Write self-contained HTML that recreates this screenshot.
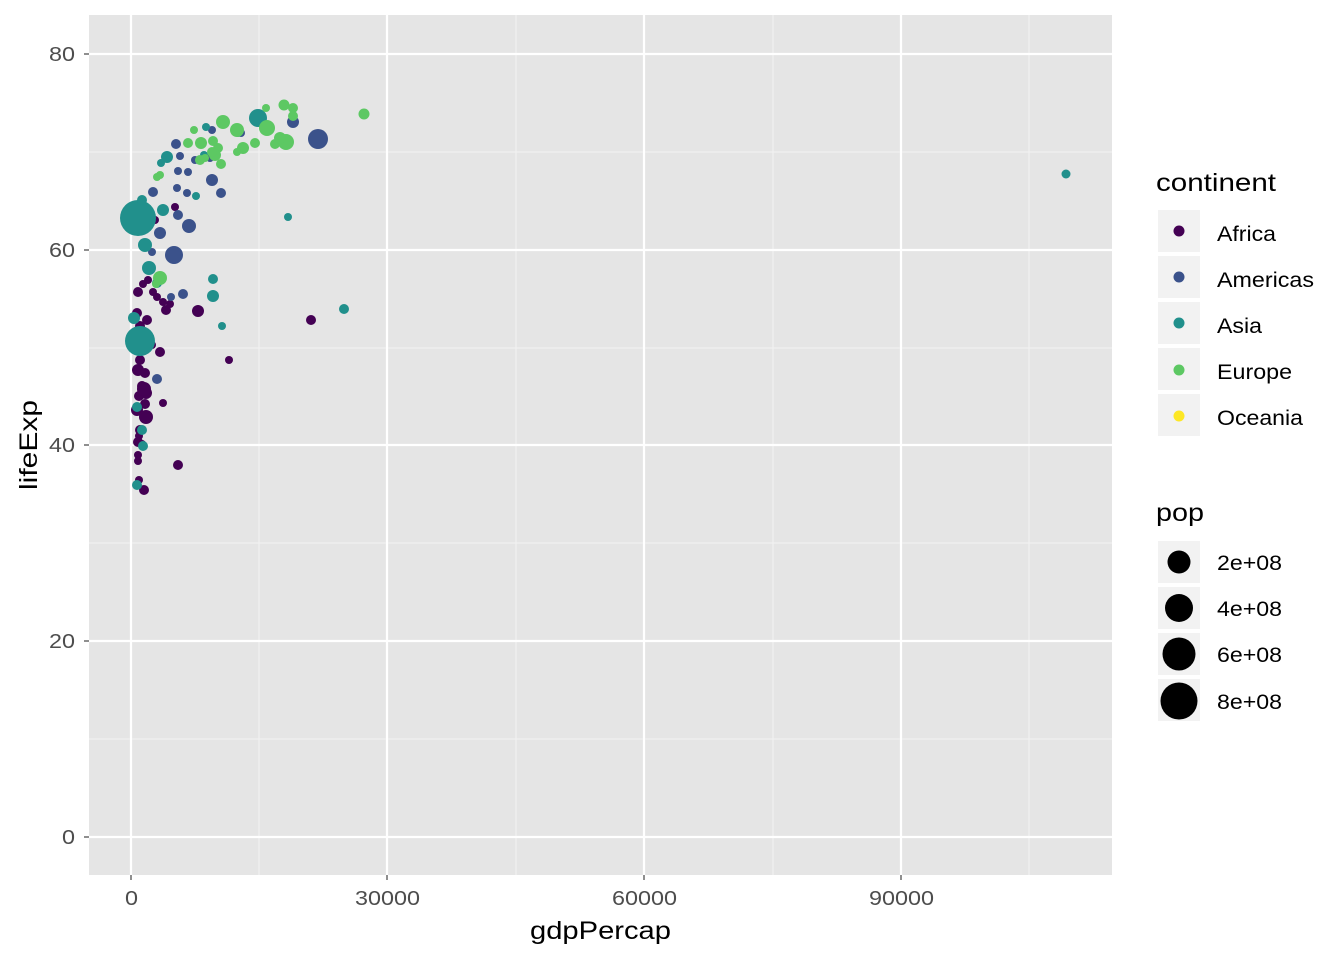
<!DOCTYPE html>
<html><head><style>body{margin:0;background:#fff}svg{display:block}text{font-family:"Liberation Sans",sans-serif}</style></head>
<body>
<svg width="1344" height="960" viewBox="0 0 1344 960">
<rect x="89" y="15" width="1023" height="860" fill="#e5e5e5"/>
<g stroke="#f2f2f2" stroke-width="1.1">
<line x1="259" y1="15" x2="259" y2="875"/><line x1="516" y1="15" x2="516" y2="875"/><line x1="773" y1="15" x2="773" y2="875"/><line x1="1029" y1="15" x2="1029" y2="875"/>
<line x1="89" y1="152" x2="1112" y2="152"/><line x1="89" y1="348" x2="1112" y2="348"/><line x1="89" y1="543" x2="1112" y2="543"/><line x1="89" y1="739" x2="1112" y2="739"/>
</g>
<g stroke="#fff" stroke-width="2.2">
<line x1="131" y1="15" x2="131" y2="875"/><line x1="387" y1="15" x2="387" y2="875"/><line x1="644" y1="15" x2="644" y2="875"/><line x1="901" y1="15" x2="901" y2="875"/>
<line x1="89" y1="54" x2="1112" y2="54"/><line x1="89" y1="250" x2="1112" y2="250"/><line x1="89" y1="445" x2="1112" y2="445"/><line x1="89" y1="641" x2="1112" y2="641"/><line x1="89" y1="837" x2="1112" y2="837"/>
</g>
<g stroke="#333" stroke-width="1.1">
<line x1="84" y1="54" x2="89" y2="54"/><line x1="84" y1="250" x2="89" y2="250"/><line x1="84" y1="445" x2="89" y2="445"/><line x1="84" y1="641" x2="89" y2="641"/><line x1="84" y1="837" x2="89" y2="837"/>
<line x1="131" y1="875" x2="131" y2="880"/><line x1="387" y1="875" x2="387" y2="880"/><line x1="644" y1="875" x2="644" y2="880"/><line x1="901" y1="875" x2="901" y2="880"/>
</g>
<g font-size="20" fill="#4d4d4d">
<text x="49" y="61" textLength="26" lengthAdjust="spacingAndGlyphs">80</text>
<text x="49" y="257" textLength="26" lengthAdjust="spacingAndGlyphs">60</text>
<text x="49" y="452" textLength="26" lengthAdjust="spacingAndGlyphs">40</text>
<text x="49" y="648" textLength="26" lengthAdjust="spacingAndGlyphs">20</text>
<text x="62" y="844" textLength="13" lengthAdjust="spacingAndGlyphs">0</text>
<text x="125" y="905" textLength="13" lengthAdjust="spacingAndGlyphs">0</text>
<text x="355" y="905" textLength="65" lengthAdjust="spacingAndGlyphs">30000</text>
<text x="612" y="905" textLength="65" lengthAdjust="spacingAndGlyphs">60000</text>
<text x="869" y="905" textLength="65" lengthAdjust="spacingAndGlyphs">90000</text>
</g>
<text x="530" y="939" font-size="25" textLength="141" lengthAdjust="spacingAndGlyphs">gdpPercap</text>
<text transform="translate(37,490) rotate(-90)" font-size="25" textLength="90" lengthAdjust="spacingAndGlyphs">lifeExp</text>
<g fill="#440154">
<circle cx="138" cy="292" r="5"/><circle cx="143" cy="284" r="4"/><circle cx="153" cy="292" r="4"/><circle cx="157" cy="297" r="4"/><circle cx="163" cy="302" r="4"/><circle cx="166" cy="310" r="5"/><circle cx="170" cy="304" r="4"/><circle cx="148" cy="280" r="4"/><circle cx="155" cy="220" r="4"/><circle cx="175" cy="207" r="4"/><circle cx="137" cy="313" r="5"/><circle cx="140" cy="326" r="5"/><circle cx="145" cy="335" r="5"/><circle cx="147" cy="320" r="5"/><circle cx="152" cy="345" r="4"/><circle cx="160" cy="352" r="5"/><circle cx="143" cy="346" r="6"/><circle cx="140" cy="360" r="5"/><circle cx="138" cy="370" r="6"/><circle cx="145" cy="373" r="5"/><circle cx="142" cy="386" r="5"/><circle cx="146" cy="393" r="6"/><circle cx="139" cy="396" r="5"/><circle cx="145" cy="404" r="5"/><circle cx="137" cy="410" r="6"/><circle cx="140" cy="430" r="5"/><circle cx="139" cy="436" r="4"/><circle cx="138" cy="442" r="5"/><circle cx="142" cy="444" r="4"/><circle cx="138" cy="455" r="4"/><circle cx="138" cy="461" r="4"/><circle cx="139" cy="480" r="4"/><circle cx="144" cy="490" r="5"/><circle cx="163" cy="403" r="4"/><circle cx="178" cy="465" r="5"/><circle cx="198" cy="311" r="6"/><circle cx="311" cy="320" r="5"/><circle cx="229" cy="360" r="4"/><circle cx="144" cy="389" r="7"/><circle cx="146" cy="417" r="7"/>
</g>
<g fill="#3B528B">
<circle cx="318" cy="139" r="10"/><circle cx="293" cy="122" r="6"/><circle cx="212" cy="130" r="4"/><circle cx="210" cy="158" r="4"/><circle cx="195" cy="160" r="4"/><circle cx="176" cy="144" r="5"/><circle cx="180" cy="156" r="4"/><circle cx="187" cy="193" r="4"/><circle cx="177" cy="188" r="4"/><circle cx="188" cy="172" r="4"/><circle cx="153" cy="192" r="5"/><circle cx="178" cy="215" r="5"/><circle cx="212" cy="180" r="6"/><circle cx="221" cy="193" r="5"/><circle cx="189" cy="226" r="7"/><circle cx="160" cy="233" r="6"/><circle cx="152" cy="252" r="4"/><circle cx="174" cy="255" r="9"/><circle cx="183" cy="294" r="5"/><circle cx="171" cy="297" r="4"/><circle cx="157" cy="379" r="5"/><circle cx="241" cy="133" r="4"/><circle cx="178" cy="171" r="4"/>
</g>
<g fill="#21908C">
<circle cx="258" cy="118" r="9"/><circle cx="238" cy="132" r="5"/><circle cx="138" cy="218" r="18"/><circle cx="140" cy="341" r="15"/><circle cx="288" cy="217" r="4"/><circle cx="344" cy="309" r="5"/><circle cx="213" cy="279" r="5"/><circle cx="213" cy="296" r="6"/><circle cx="222" cy="326" r="4"/><circle cx="1066" cy="174" r="4.5"/><circle cx="167" cy="157" r="6"/><circle cx="161" cy="163" r="4"/><circle cx="206" cy="127" r="4"/><circle cx="196" cy="196" r="4"/><circle cx="163" cy="210" r="6"/><circle cx="145" cy="245" r="7"/><circle cx="149" cy="268" r="7"/><circle cx="157" cy="283" r="5"/><circle cx="142" cy="200" r="5"/><circle cx="142" cy="430" r="5"/><circle cx="137" cy="485" r="5"/><circle cx="134" cy="318" r="6"/><circle cx="137" cy="407" r="5"/><circle cx="204" cy="155" r="4"/><circle cx="143" cy="446" r="5"/>
</g>
<g fill="#5DC863">
<circle cx="364" cy="114" r="5.5"/><circle cx="284" cy="105" r="5.5"/><circle cx="293" cy="108" r="5"/><circle cx="293" cy="116" r="5"/><circle cx="266" cy="108" r="4"/><circle cx="267" cy="128" r="8"/><circle cx="286" cy="142" r="8"/><circle cx="275" cy="144" r="5"/><circle cx="255" cy="143" r="5"/><circle cx="243" cy="148" r="6"/><circle cx="237" cy="152" r="4"/><circle cx="223" cy="122" r="7"/><circle cx="237" cy="130" r="7"/><circle cx="213" cy="141" r="5"/><circle cx="218" cy="148" r="5"/><circle cx="215" cy="155" r="6"/><circle cx="201" cy="143" r="6"/><circle cx="188" cy="143" r="5"/><circle cx="205" cy="158" r="4"/><circle cx="221" cy="164" r="5"/><circle cx="200" cy="160" r="5"/><circle cx="160" cy="175" r="4"/><circle cx="157" cy="177" r="4"/><circle cx="160" cy="278" r="7"/><circle cx="156" cy="284" r="4"/><circle cx="194" cy="130" r="4"/><circle cx="212" cy="152" r="5"/><circle cx="280" cy="138" r="6"/>
</g>
<text x="1156" y="191" font-size="25" textLength="120" lengthAdjust="spacingAndGlyphs">continent</text>
<g fill="#f2f2f2">
<rect x="1158" y="210" width="42" height="42"/><rect x="1158" y="256" width="42" height="42"/><rect x="1158" y="302" width="42" height="42"/><rect x="1158" y="348" width="42" height="42"/><rect x="1158" y="394" width="42" height="42"/>
<rect x="1158" y="541" width="42" height="42"/><rect x="1158" y="587" width="42" height="42"/><rect x="1158" y="633" width="42" height="42"/><rect x="1158" y="679" width="42" height="42"/>
</g>
<circle cx="1179" cy="231" r="5.5" fill="#440154"/><circle cx="1179" cy="277" r="5.5" fill="#3B528B"/><circle cx="1179" cy="323" r="5.5" fill="#21908C"/><circle cx="1179" cy="370" r="5.5" fill="#5DC863"/><circle cx="1179" cy="416" r="5.5" fill="#FDE725"/>
<g font-size="21" fill="#000">
<text x="1217" y="241" textLength="59" lengthAdjust="spacingAndGlyphs">Africa</text>
<text x="1217" y="287" textLength="97" lengthAdjust="spacingAndGlyphs">Americas</text>
<text x="1217" y="333" textLength="45" lengthAdjust="spacingAndGlyphs">Asia</text>
<text x="1217" y="379" textLength="75" lengthAdjust="spacingAndGlyphs">Europe</text>
<text x="1217" y="425" textLength="86" lengthAdjust="spacingAndGlyphs">Oceania</text>
<text x="1217" y="570" textLength="65" lengthAdjust="spacingAndGlyphs">2e+08</text>
<text x="1217" y="616" textLength="65" lengthAdjust="spacingAndGlyphs">4e+08</text>
<text x="1217" y="662" textLength="65" lengthAdjust="spacingAndGlyphs">6e+08</text>
<text x="1217" y="709" textLength="65" lengthAdjust="spacingAndGlyphs">8e+08</text>
</g>
<text x="1156" y="521" font-size="25" textLength="48" lengthAdjust="spacingAndGlyphs">pop</text>
<circle cx="1179" cy="562" r="11.5" fill="#000"/><circle cx="1179" cy="608" r="14" fill="#000"/><circle cx="1179" cy="654" r="16.5" fill="#000"/><circle cx="1179" cy="701" r="18.5" fill="#000"/>
</svg>
</body></html>
